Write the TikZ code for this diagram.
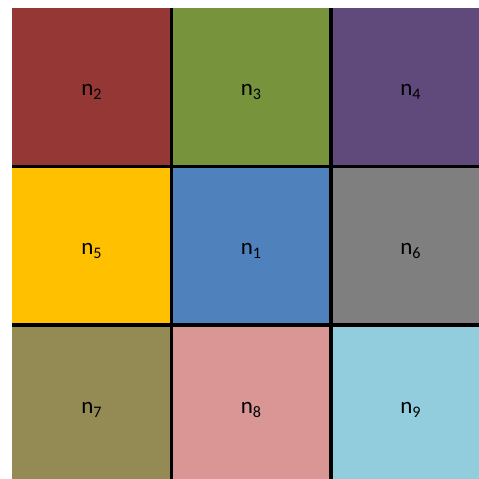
\documentclass[tikz,border=0pt]{standalone}
\usepackage{fontspec}
\setmainfont{Carlito}
\definecolor{cellred}{RGB}{149,55,53}
\definecolor{cellgreen}{RGB}{119,147,60}
\definecolor{cellpurple}{RGB}{96,74,123}
\definecolor{cellyellow}{RGB}{255,192,0}
\definecolor{cellblue}{RGB}{79,129,189}
\definecolor{cellgray}{RGB}{127,127,127}
\definecolor{cellolive}{RGB}{148,138,84}
\definecolor{cellpink}{RGB}{217,150,148}
\definecolor{cellcyan}{RGB}{146,205,221}
\usepackage{tikz}
\usetikzlibrary{positioning}

\begin{document}
\begin{tikzpicture}[x=1pt,y=-1pt,
  cell/.style={inner sep=0pt,outer sep=0pt,minimum width=159.5pt,minimum height=158.75pt,
    font=\fontsize{23}{28}\selectfont,text height=24pt,text depth=6pt},
  gridline/.style={line width=3.5pt,black}]
  \useasboundingbox (0,0) rectangle (479,479);
  \clip (0,0) rectangle (479,479);
  % cells: name / x / y / fill / index
  \foreach \n/\x/\y/\c/\i in {n2/91.75/86.875/cellred/2, n3/251.25/86.875/cellgreen/3,
      n4/410.75/86.875/cellpurple/4, n5/91.75/245.625/cellyellow/5,
      n1/251.25/245.625/cellblue/1, n6/410.75/245.625/cellgray/6,
      n7/91.75/404.375/cellolive/7, n8/251.25/404.375/cellpink/8,
      n9/410.75/404.375/cellcyan/9} {
    \node[cell,fill=\c] (\n) at (\x,\y) {n\textsubscript{\i}};
  }
  % inner grid lines
  \draw[gridline] (n2.north east) -- (n8.south west);
  \draw[gridline] (n3.north east) -- (n9.south west);
  \draw[gridline] (n2.south west) -- (n6.north east);
  \draw[gridline] (n5.south west) -- (n9.north east);
\end{tikzpicture}
\end{document}
